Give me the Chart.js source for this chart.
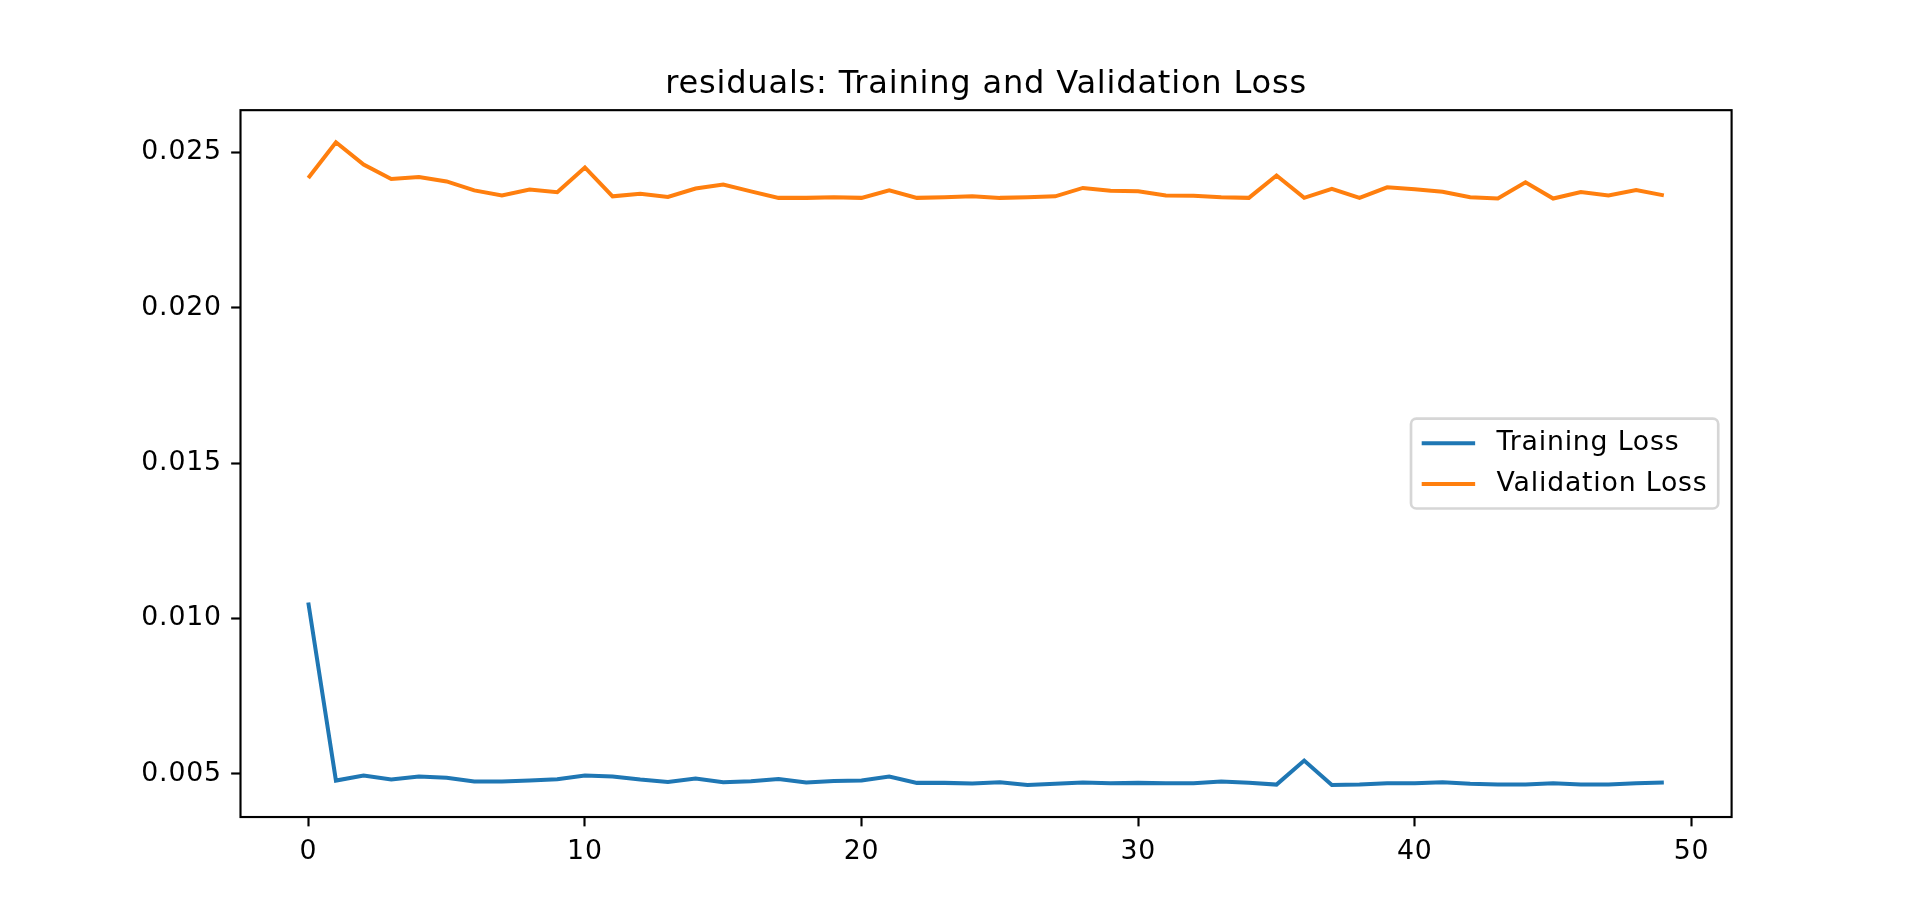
<!DOCTYPE html>
<html>
<head>
<meta charset="utf-8">
<title>residuals: Training and Validation Loss</title>
<script src="https://cdn.jsdelivr.net/npm/chart.js@4.4.1/dist/chart.umd.min.js"></script>
<style>
  html, body { margin: 0; padding: 0; background: #fff; }
  canvas { display: block; }
</style>
</head>
<body>
<canvas id="lossChart" width="1924" height="918"></canvas>
<script>
// Podaci ocitani sa slike
const epochs = [0, 1, 2, 3, 4, 5, 6, 7, 8, 9, 10, 11, 12, 13, 14, 15, 16, 17, 18, 19,
    20, 21, 22, 23, 24, 25, 26, 27, 28, 29, 30, 31, 32, 33, 34, 35, 36, 37, 38, 39,
    40, 41, 42, 43, 44, 45, 46, 47, 48, 49];
const trainingLoss = [0.01051, 0.004776, 0.004937, 0.004808, 0.004905, 0.004863, 0.004744, 0.004744, 0.004776, 0.004818,
    0.004937, 0.004905, 0.004808, 0.004734, 0.004840, 0.004723, 0.004754, 0.004830, 0.004712, 0.004765,
    0.004776, 0.004905, 0.004702, 0.004702, 0.004680, 0.004723, 0.004637, 0.004670, 0.004712, 0.004691,
    0.004702, 0.004691, 0.004691, 0.004744, 0.004702, 0.004647, 0.005419, 0.004637, 0.004647, 0.004691,
    0.004691, 0.004723, 0.004670, 0.004647, 0.004647, 0.004691, 0.004647, 0.004647, 0.004691, 0.004712];
const validationLoss = [0.02418, 0.02533, 0.02461, 0.02415, 0.02421, 0.02407, 0.02378, 0.02362, 0.02381, 0.02372,
    0.02452, 0.02359, 0.02367, 0.02357, 0.02384, 0.02397, 0.02375, 0.02354, 0.02354, 0.02356,
    0.02354, 0.02378, 0.02354, 0.02356, 0.02359, 0.02354, 0.02356, 0.02359, 0.02386, 0.02377,
    0.02375, 0.02362, 0.02361, 0.02356, 0.02354, 0.02426, 0.02354, 0.02383, 0.02354, 0.02388,
    0.02382, 0.02374, 0.02356, 0.02352, 0.02404, 0.02352, 0.02373, 0.02362, 0.02379, 0.02362];
const xTicks = [0, 10, 20, 30, 40, 50];
const yTicks = [0.005, 0.010, 0.015, 0.020, 0.025];
const titleText = 'residuals: Training and Validation Loss';

const canvas = document.getElementById('lossChart');
const W = 1924, H = 918;
const pt = W / 10 / 72; // piksela po tacki
const fontFamily = '"DejaVu Sans", sans-serif';
const spacingPx = '0.8px'; // matplotlib hinting daje malo siri tekst

// margine kao u matplotlibu (5%)
const allY = trainingLoss.concat(validationLoss);
const yLo = Math.min(...allY);
const yHi = Math.max(...allY);
const yPad = (yHi - yLo) * 0.05;
const xPad = (epochs[epochs.length - 1] - epochs[0]) * 0.05;

function toPoints(values) {
    return epochs.map((e, i) => ({ x: e, y: values[i] }));
}

const letterSpacing = {
    id: 'letterSpacing',
    beforeLayout(chart) { chart.ctx.letterSpacing = spacingPx; },
    beforeDraw(chart) { chart.ctx.letterSpacing = spacingPx; }
};

// okvir oko grafika i legenda desno u sredini
const frameAndLegend = {
    id: 'frameAndLegend',
    afterDraw(chart) {
        const ctx = chart.ctx;
        const a = chart.chartArea;
        ctx.save();
        ctx.strokeStyle = '#000';
        ctx.lineWidth = 0.8 * pt;
        ctx.strokeRect(a.left, a.top, a.right - a.left, a.bottom - a.top);

        const fs = 10 * pt;
        ctx.font = fs + 'px ' + fontFamily;
        const sets = chart.data.datasets;
        const textW = Math.max(...sets.map(d => ctx.measureText(d.label).width));
        const pad = 0.4 * fs;
        const handle = 2 * fs;
        const gap = 0.8 * fs;
        const rowH = 1.03 * fs;
        const spacing = 0.5 * fs;
        const boxW = 2 * pad + handle + gap + textW;
        const boxH = 2 * pad + sets.length * rowH + (sets.length - 1) * spacing;
        const boxX = a.right - 0.5 * fs - boxW;
        const boxY = (a.top + a.bottom) / 2 - boxH / 2;

        ctx.beginPath();
        ctx.roundRect(boxX, boxY, boxW, boxH, 0.2 * fs);
        ctx.fillStyle = 'rgba(255,255,255,0.8)';
        ctx.fill();
        ctx.strokeStyle = 'rgba(204,204,204,0.8)';
        ctx.lineWidth = 1 * pt;
        ctx.stroke();

        sets.forEach((d, i) => {
            const cy = boxY + pad + i * (rowH + spacing) + rowH / 2;
            ctx.beginPath();
            ctx.moveTo(boxX + pad, cy);
            ctx.lineTo(boxX + pad + handle, cy);
            ctx.strokeStyle = d.borderColor;
            ctx.lineWidth = d.borderWidth;
            ctx.stroke();
            ctx.fillStyle = '#000';
            ctx.textAlign = 'left';
            ctx.textBaseline = 'middle';
            ctx.fillText(d.label, boxX + pad + handle + gap, cy);
        });
        ctx.restore();
    }
};

const tickFont = { family: fontFamily, size: 10 * pt };
const titleSize = 12 * pt;
const tickGrid = {
    display: true,
    drawOnChartArea: false,
    drawTicks: true,
    tickLength: 3.5 * pt,
    tickWidth: 0.8 * pt,
    tickColor: '#000'
};

const myChart = new Chart(canvas, {
    type: 'line',
    data: {
        datasets: [{
            label: 'Training Loss',
            data: toPoints(trainingLoss),
            borderColor: '#1f77b4',
            borderWidth: 1.5 * pt,
            pointRadius: 0,
            tension: 0,
            fill: false
        }, {
            label: 'Validation Loss',
            data: toPoints(validationLoss),
            borderColor: '#ff7f0e',
            borderWidth: 1.5 * pt,
            pointRadius: 0,
            tension: 0,
            fill: false
        }]
    },
    options: {
        responsive: false,
        devicePixelRatio: 1,
        animation: false,
        layout: {
            padding: { left: 0, right: W * 0.1, top: 0, bottom: 0 }
        },
        plugins: {
            legend: { display: false },
            tooltip: { enabled: false },
            title: {
                display: true,
                fullSize: false,
                text: titleText,
                color: '#000',
                font: { family: fontFamily, size: titleSize, weight: 'normal' },
                padding: { top: 65, bottom: H * 0.12 - 65 - titleSize * 1.2 }
            }
        },
        scales: {
            x: {
                type: 'linear',
                min: epochs[0] - xPad,
                max: epochs[epochs.length - 1] + xPad,
                afterBuildTicks: scale => {
                    scale.ticks = xTicks.map(v => ({ value: v }));
                },
                afterFit: scale => {
                    scale.height = H * 0.11;
                },
                grid: tickGrid,
                border: { display: false },
                ticks: {
                    color: '#000',
                    font: tickFont,
                    padding: 3.5 * pt,
                    maxRotation: 0,
                    autoSkip: false
                }
            },
            y: {
                type: 'linear',
                min: yLo - yPad,
                max: yHi + yPad,
                afterBuildTicks: scale => {
                    scale.ticks = yTicks.map(v => ({ value: v }));
                },
                afterFit: scale => {
                    scale.width = W * 0.125;
                },
                grid: tickGrid,
                border: { display: false },
                ticks: {
                    color: '#000',
                    font: tickFont,
                    padding: 3.5 * pt,
                    autoSkip: false,
                    callback: function (value) {
                        return value.toFixed(3);
                    }
                }
            }
        }
    },
    plugins: [letterSpacing, frameAndLegend]
});
</script>
</body>
</html>
